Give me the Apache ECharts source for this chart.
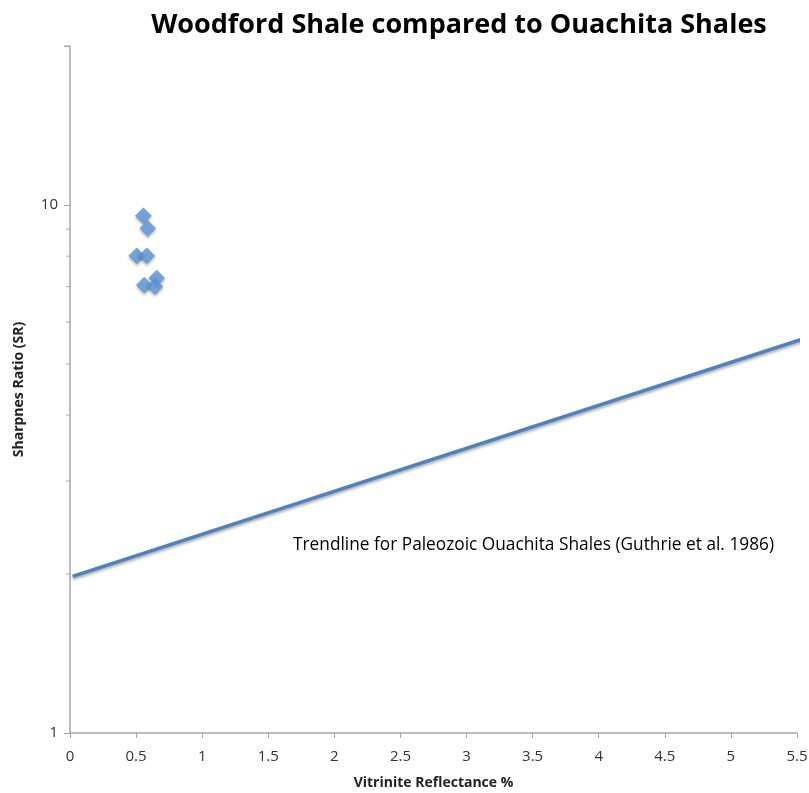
<!DOCTYPE html>
<html><head><meta charset="utf-8">
<script src="https://cdn.jsdelivr.net/npm/echarts@6/dist/echarts.min.js"></script>
<style>html,body{margin:0;padding:0;background:#fff}#c{width:809px;height:793px}</style>
</head><body><div id="c"></div>
<script>
// Data
var woodfordRo = [0.555, 0.588, 0.505, 0.581, 0.656, 0.562, 0.643];
var woodfordSR = [9.54, 9.03, 8.01, 8.01, 7.27, 7.05, 7.01];
var trendRo = [0.02, 5.57];
var trendSR = [1.98, 5.6];
var yMinorTicks = [2, 3, 4, 5, 6, 7, 8, 9];
var yExtraMajorTicks = [20];
var xTickLabels = ['0','0.5','1','1.5','2','2.5','3','3.5','4','4.5','5','5.5'];
var yTickLabels = {1: '1', 10: '10'};

var FONT = '"Liberation Sans Narrow", "Open Sans", sans-serif';
var axisColor = '#a6a6a6';
var chart = echarts.init(document.getElementById('c'));

var scatterData = woodfordRo.map(function (x, i) { return [x, woodfordSR[i]]; });
var trendData = trendRo.map(function (x, i) { return [x, trendSR[i]]; });
var tickData = yMinorTicks.map(function (v) { return [0, v, 4]; })
  .concat(yExtraMajorTicks.map(function (v) { return [0, v, 6]; }));

chart.setOption({
  animation: false,
  backgroundColor: '#fff',
  title: {
    text: 'Woodford Shale compared to Ouachita Shales',
    left: 454, top: 7, textAlign: 'center',
    textStyle: { fontFamily: '"Open Sans", sans-serif', fontWeight: 'bold', fontSize: 27, color: '#000' }
  },
  grid: { left: 70, right: 12, top: 46, bottom: 60, outerBoundsMode: 'none', containLabel: false },
  xAxis: {
    type: 'value', min: 0, max: 5.5, interval: 0.5,
    name: 'Vitrinite Reflectance %', nameLocation: 'middle', nameGap: 43,
    nameTextStyle: { fontFamily: '"Open Sans", sans-serif', fontWeight: 'bold', fontSize: 14, color: '#222' },
    axisLine: { lineStyle: { color: axisColor, width: 1.5 } },
    axisTick: { show: true, length: 5, lineStyle: { color: axisColor } },
    splitLine: { show: false },
    axisLabel: {
      margin: 16, fontFamily: FONT, fontSize: 15, color: '#333',
      formatter: function (v) { return xTickLabels[Math.round(v / 0.5)]; }
    }
  },
  yAxis: {
    type: 'log', logBase: 10, min: 1, max: 20,
    name: 'Sharpnes Ratio (SR)', nameLocation: 'middle', nameRotate: 90, nameGap: 44,
    nameTextStyle: { fontFamily: '"Open Sans", sans-serif', fontWeight: 'bold', fontSize: 14, color: '#222' },
    axisLine: { show: true, lineStyle: { color: axisColor, width: 1.5 } },
    axisTick: { show: true, length: 6, lineStyle: { color: axisColor } },
    splitLine: { show: false },
    axisLabel: {
      margin: 12, fontFamily: FONT, fontSize: 15, color: '#333',
      formatter: function (v) { return yTickLabels[Math.round(v)] || ''; }
    }
  },
  graphic: [{
    type: 'text', left: 293, top: 537,
    style: { text: 'Trendline for Paleozoic Ouachita Shales (Guthrie et al. 1986)',
      font: '17.3px "Open Sans", sans-serif', fill: '#000' }
  }],
  series: [
    {
      type: 'custom', silent: true, clip: false, z: 1,
      data: tickData,
      renderItem: function (params, api) {
        var p = api.coord([api.value(0), api.value(1)]);
        var len = api.value(2);
        return { type: 'line', shape: { x1: p[0] - len, y1: p[1], x2: p[0], y2: p[1] },
          style: { stroke: axisColor, lineWidth: 1 } };
      }
    },
    {
      type: 'line', data: trendData, showSymbol: false, symbol: 'none', clip: false,
      lineStyle: { color: '#4f81bd', width: 3.5, shadowColor: 'rgba(0,0,0,0.35)', shadowBlur: 3, shadowOffsetY: 2 },
      z: 3
    },
    {
      type: 'scatter', data: scatterData, symbol: 'diamond', symbolSize: [16, 16],
      itemStyle: { color: '#5f9be0', borderColor: '#4a7fc0', borderWidth: 0.5,
        shadowColor: 'rgba(0,0,0,0.35)', shadowBlur: 3, shadowOffsetY: 2 },
      z: 4
    }
  ]
});
</script>
</body></html>
